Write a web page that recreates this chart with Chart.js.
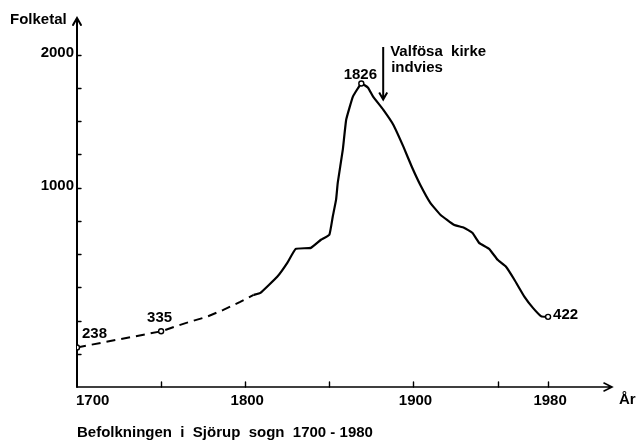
<!DOCTYPE html>
<html>
<head>
<meta charset="utf-8">
<script src="https://cdn.jsdelivr.net/npm/chart.js@4"></script>
<style>
html, body { margin: 0; padding: 0; background: #fff; }
</style>
</head>
<body>
<canvas id="chartFolketal" width="637" height="441"></canvas>
<script>
// anslået folketal (stiplet linje)
const aarAnslag = [1700, 1750, 1765, 1777, 1787, 1797, 1805];
const folkAnslag = [238, 335, 386, 422, 464, 512, 554];

// optalt folketal (fuldt optrukket linje)
const aarTal = [1805, 1809, 1819, 1825, 1830, 1839, 1845, 1850, 1852, 1854, 1855, 1858, 1860, 1864, 1869, 1873, 1876, 1882, 1888, 1894, 1899, 1904, 1910, 1916, 1924, 1930, 1935, 1939, 1945, 1950, 1955, 1960, 1966, 1971, 1976, 1980];
const folkTal = [554, 566, 663, 747, 831, 837, 886, 916, 1024, 1127, 1229, 1428, 1608, 1747, 1826, 1801, 1747, 1669, 1578, 1446, 1325, 1217, 1108, 1036, 976, 958, 928, 867, 831, 765, 723, 645, 542, 476, 425, 422];

// akser
const xStreger = [1750, 1800, 1850, 1900, 1950, 1980];
const xEtiketter = ['1700', '1800', '1900', '1980'];
const yStreger = [200, 400, 600, 800, 1000, 1200, 1400, 1600, 1800, 2000];
// som i forlaget: "1000" står ved den sjette streg oppefra
const yEtiketVaerdier = [2000, 1200];
const yEtiketter = ['2000', '1000'];

const FONT = 'bold 15px "Liberation Sans", Arial, sans-serif';

function punkter(aar, folk) {
    return aar.map((a, i) => ({ x: a, y: folk[i] }));
}

// punkter med cirkel og tal
function visPunkt(ds, i) {
    if (ds === 0) return i === 0 || i === 1;
    const idxTop = folkTal.indexOf(Math.max(...folkTal));
    return i === idxTop || i === folkTal.length - 1;
}

const tegnAkser = {
    id: 'tegnAkser',
    beforeDatasetsDraw(chart) {
        const ctx = chart.ctx;
        const xs = chart.scales.x, ys = chart.scales.y;
        const x0 = xs.getPixelForValue(1700);
        const y0 = ys.getPixelForValue(0);
        const xEnd = chart.chartArea.right;
        const yTop = chart.chartArea.top;
        ctx.save();
        ctx.strokeStyle = '#000';
        ctx.lineCap = 'round';

        // y-akse med pil
        ctx.lineWidth = 2;
        ctx.beginPath();
        ctx.moveTo(x0, y0);
        ctx.lineTo(x0, yTop);
        ctx.moveTo(x0 - 4, yTop + 7);
        ctx.lineTo(x0, yTop);
        ctx.lineTo(x0 + 4, yTop + 7);
        ctx.stroke();

        // x-akse med pil
        ctx.lineWidth = 1.6;
        ctx.beginPath();
        ctx.moveTo(x0, y0);
        ctx.lineTo(xEnd, y0);
        ctx.moveTo(xEnd - 8, y0 - 4);
        ctx.lineTo(xEnd, y0);
        ctx.lineTo(xEnd - 8, y0 + 4);
        ctx.stroke();

        // streger
        ctx.lineWidth = 1.4;
        ctx.beginPath();
        yStreger.forEach(v => {
            const y = Math.round(ys.getPixelForValue(v)) + 0.5;
            ctx.moveTo(x0, y);
            ctx.lineTo(x0 + 4, y);
        });
        xStreger.forEach(v => {
            const x = Math.round(xs.getPixelForValue(v)) + 0.5;
            ctx.moveTo(x, y0);
            ctx.lineTo(x, y0 - 5);
        });
        ctx.stroke();
        ctx.restore();
    },
    afterDraw(chart) {
        const ctx = chart.ctx;
        const xs = chart.scales.x, ys = chart.scales.y;
        const x0 = xs.getPixelForValue(1700);
        const y0 = ys.getPixelForValue(0);
        ctx.save();
        ctx.fillStyle = '#000';
        ctx.font = FONT;
        ctx.textBaseline = 'middle';

        // y-etiketter
        ctx.textAlign = 'right';
        yEtiketVaerdier.forEach((v, i) => {
            ctx.fillText(yEtiketter[i], x0 - 3, ys.getPixelForValue(v) - 2);
        });

        // x-etiketter
        xEtiketter.forEach(t => {
            const x = xs.getPixelForValue(Number(t));
            ctx.textAlign = t === '1700' ? 'left' : 'center';
            ctx.fillText(t, t === '1700' ? x - 1 : x + 2, y0 + 14);
        });

        // aksetitler
        ctx.textAlign = 'left';
        ctx.fillText('Folketal', 10, 20);
        ctx.fillText('År', 619, y0 + 13);

        // tal ved punkter
        ctx.fillText(String(folkAnslag[0]), x0 + 5, ys.getPixelForValue(folkAnslag[0]) - 14);
        ctx.fillText(String(folkAnslag[1]), xs.getPixelForValue(aarAnslag[1]) - 14, ys.getPixelForValue(folkAnslag[1]) - 13);
        const iTop = folkTal.indexOf(Math.max(...folkTal));
        ctx.textAlign = 'center';
        ctx.fillText(String(folkTal[iTop]), xs.getPixelForValue(aarTal[iTop]) - 1, ys.getPixelForValue(folkTal[iTop]) - 9);
        const iSidst = folkTal.length - 1;
        ctx.textAlign = 'left';
        ctx.fillText(String(folkTal[iSidst]), xs.getPixelForValue(aarTal[iSidst]) + 5, ys.getPixelForValue(folkTal[iSidst]) - 2);

        // kirke-pil
        const xPil = xs.getPixelForValue(1882);
        const yPilTop = ys.getPixelForValue(2045);
        const yPilBund = ys.getPixelForValue(1730);
        ctx.strokeStyle = '#000';
        ctx.lineWidth = 2;
        ctx.beginPath();
        ctx.moveTo(xPil, yPilTop);
        ctx.lineTo(xPil, yPilBund);
        ctx.moveTo(xPil - 4, yPilBund - 7);
        ctx.lineTo(xPil, yPilBund);
        ctx.lineTo(xPil + 4, yPilBund - 7);
        ctx.stroke();
        ctx.fillText('Valfösa  kirke', xPil + 7, 52);
        ctx.fillText('indvies', xPil + 8, 68);

        // undertekst
        ctx.fillText('Befolkningen  i  Sjörup  sogn  1700 - 1980', x0, 433);
        ctx.restore();
    }
};

function lavGraf() {
    const ctx = document.getElementById('chartFolketal').getContext('2d');
    new Chart(ctx, {
        type: 'line',
        data: {
            datasets: [
                {
                    label: 'Anslået',
                    data: punkter(aarAnslag, folkAnslag),
                    borderColor: '#000',
                    borderWidth: 2,
                    borderDash: [9, 6],
                    tension: 0,
                    pointRadius: c => visPunkt(0, c.dataIndex) ? 2.5 : 0,
                    pointBackgroundColor: '#fff',
                    pointBorderColor: '#000',
                    pointBorderWidth: 1.4
                },
                {
                    label: 'Folketal',
                    data: punkter(aarTal, folkTal),
                    borderColor: '#000',
                    borderWidth: 2.2,
                    tension: 0.1,
                    pointRadius: c => visPunkt(1, c.dataIndex) ? 2.5 : 0,
                    pointBackgroundColor: '#fff',
                    pointBorderColor: '#000',
                    pointBorderWidth: 1.4
                }
            ]
        },
        options: {
            responsive: false,
            animation: false,
            devicePixelRatio: 1,
            layout: { padding: { left: 77, right: 25, top: 18, bottom: 54 } },
            plugins: { legend: { display: false }, tooltip: { enabled: false } },
            scales: {
                x: { type: 'linear', min: 1700, max: 2018, display: false },
                y: { min: 0, max: 2220, display: false }
            }
        },
        plugins: [tegnAkser]
    });
}

document.addEventListener('DOMContentLoaded', lavGraf);
</script>
</body>
</html>
